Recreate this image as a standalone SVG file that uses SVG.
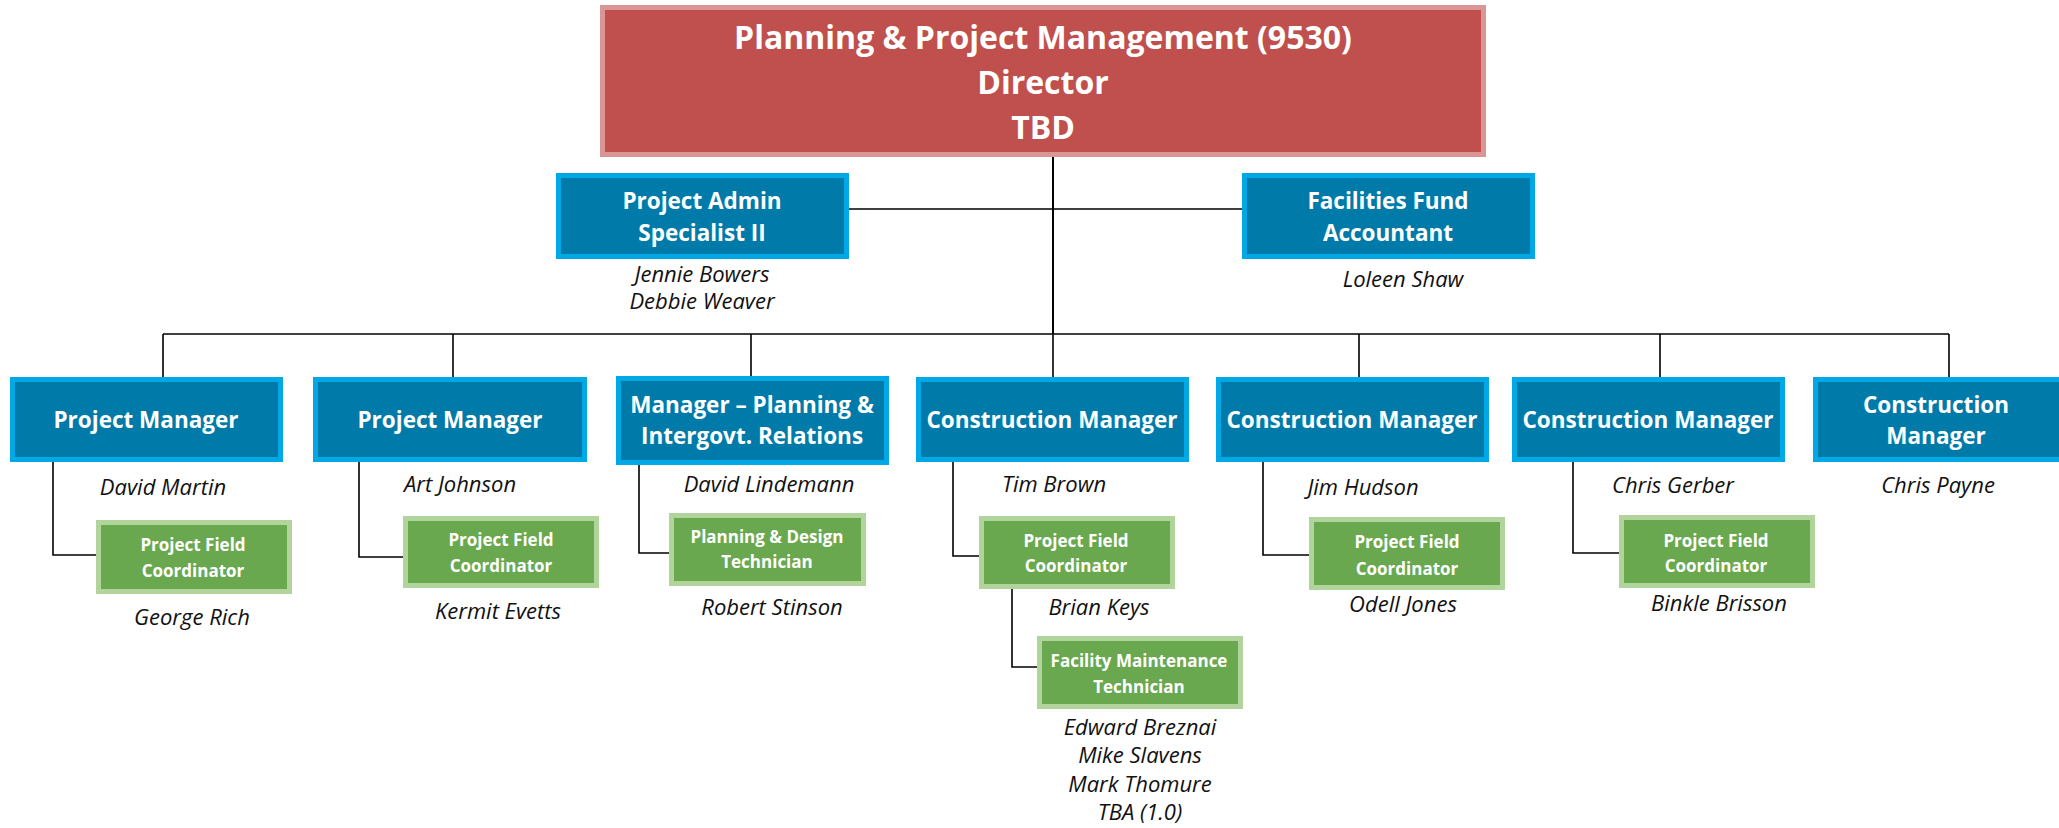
<svg xmlns="http://www.w3.org/2000/svg" width="2059" height="828" viewBox="0 0 2059 828">
<style>
.top{fill:#C0504D;stroke:#D99694;stroke-width:5}
.blue{fill:#007BA9;stroke:#00A9E6;stroke-width:5}
.green{fill:#6AA84F;stroke:#B0D49C;stroke-width:5}
.tt{font-family:"Open Sans","Liberation Sans",sans-serif;font-weight:bold;font-size:32px;fill:#fff;text-anchor:middle}
.bt{font-family:"Open Sans","Liberation Sans",sans-serif;font-weight:bold;font-size:22.5px;fill:#fff;text-anchor:middle}
.gt{font-family:"Open Sans","Liberation Sans",sans-serif;font-weight:bold;font-size:17px;fill:#fff;text-anchor:middle}
.nm{font-family:"Open Sans","Liberation Sans",sans-serif;font-style:italic;font-size:22px;fill:#111;text-anchor:middle}
.ln{fill:none;stroke:#000;stroke-width:1.6}
</style>
<g id="connectors">
<path class="ln" d="M1053 157V334" style="stroke-width:2"/>
<path class="ln" d="M849 209H1242"/>
<path class="ln" d="M163 334H1949"/>
<path class="ln" d="M163 334V377M453 334V377M751 334V376M1053 334V377M1359 334V377M1660 334V377M1949 334V377"/>
<path class="ln" d="M53 462V555H96"/>
<path class="ln" d="M359 462V557H403"/>
<path class="ln" d="M639 465V553H669"/>
<path class="ln" d="M953 462V556H979"/>
<path class="ln" d="M1263 462V555H1309"/>
<path class="ln" d="M1573 462V553H1619"/>
<path class="ln" d="M1012 589V667H1037"/>
</g>
<g id="director">
<rect class="top" x="602.5" y="7.5" width="881" height="147"/>
<text class="tt" x="1043" y="49">Planning &amp; Project Management (9530)</text>
<text class="tt" x="1043" y="94">Director</text>
<text class="tt" x="1043" y="139">TBD</text>
</g>
<g id="admin">
<rect class="blue" x="558.5" y="175.5" width="288" height="81"/>
<text class="bt" x="702" y="209">Project Admin</text>
<text class="bt" x="702" y="241">Specialist II</text>
<text class="nm" x="702" y="282">Jennie Bowers</text>
<text class="nm" x="702" y="309">Debbie Weaver</text>
</g>
<g id="accountant">
<rect class="blue" x="1244.5" y="175.5" width="288" height="81"/>
<text class="bt" x="1388" y="209">Facilities Fund</text>
<text class="bt" x="1388" y="241">Accountant</text>
<text class="nm" x="1403" y="287">Loleen Shaw</text>
</g>
<g id="pm1">
<rect class="blue" x="12.5" y="379.5" width="268" height="80"/>
<text class="bt" x="146" y="428">Project Manager</text>
<text class="nm" x="163" y="495">David Martin</text>
</g>
<g id="pfc1">
<rect class="green" x="98.5" y="522.5" width="191" height="69"/>
<text class="gt" x="193" y="551">Project Field</text>
<text class="gt" x="193" y="577">Coordinator</text>
<text class="nm" x="192" y="625">George Rich</text>
</g>
<g id="pm2">
<rect class="blue" x="315.5" y="379.5" width="269" height="80"/>
<text class="bt" x="450" y="428">Project Manager</text>
<text class="nm" x="460" y="492">Art Johnson</text>
</g>
<g id="pfc2">
<rect class="green" x="405.5" y="518.5" width="191" height="67"/>
<text class="gt" x="501" y="546">Project Field</text>
<text class="gt" x="501" y="572">Coordinator</text>
<text class="nm" x="498" y="619">Kermit Evetts</text>
</g>
<g id="mgr-planning">
<rect class="blue" x="618.5" y="378.5" width="268" height="84"/>
<text class="bt" x="752" y="413">Manager – Planning &amp;</text>
<text class="bt" x="752" y="444">Intergovt. Relations</text>
<text class="nm" x="769" y="492">David Lindemann</text>
</g>
<g id="pdt">
<rect class="green" x="671.5" y="515.5" width="192" height="68"/>
<text class="gt" x="767" y="543">Planning &amp; Design</text>
<text class="gt" x="767" y="568">Technician</text>
<text class="nm" x="772" y="615">Robert Stinson</text>
</g>
<g id="cm1">
<rect class="blue" x="918.5" y="379.5" width="268" height="80"/>
<text class="bt" x="1052" y="428">Construction Manager</text>
<text class="nm" x="1054" y="492">Tim Brown</text>
</g>
<g id="pfc4">
<rect class="green" x="981.5" y="518.5" width="191" height="68"/>
<text class="gt" x="1076" y="547">Project Field</text>
<text class="gt" x="1076" y="572">Coordinator</text>
<text class="nm" x="1099" y="615">Brian Keys</text>
</g>
<g id="fmt">
<rect class="green" x="1039.5" y="638.5" width="201" height="68"/>
<text class="gt" x="1139" y="667">Facility Maintenance</text>
<text class="gt" x="1139" y="693">Technician</text>
<text class="nm" x="1140" y="735">Edward Breznai</text>
<text class="nm" x="1140" y="763">Mike Slavens</text>
<text class="nm" x="1140" y="792">Mark Thomure</text>
<text class="nm" x="1140" y="820">TBA (1.0)</text>
</g>
<g id="cm2">
<rect class="blue" x="1218.5" y="379.5" width="268" height="80"/>
<text class="bt" x="1352" y="428">Construction Manager</text>
<text class="nm" x="1363" y="495">Jim Hudson</text>
</g>
<g id="pfc5">
<rect class="green" x="1311.5" y="519.5" width="191" height="68"/>
<text class="gt" x="1407" y="548">Project Field</text>
<text class="gt" x="1407" y="575">Coordinator</text>
<text class="nm" x="1403" y="612">Odell Jones</text>
</g>
<g id="cm3">
<rect class="blue" x="1514.5" y="379.5" width="268" height="80"/>
<text class="bt" x="1648" y="428">Construction Manager</text>
<text class="nm" x="1673" y="493">Chris Gerber</text>
</g>
<g id="pfc6">
<rect class="green" x="1621.5" y="517.5" width="191" height="68"/>
<text class="gt" x="1716" y="547">Project Field</text>
<text class="gt" x="1716" y="572">Coordinator</text>
<text class="nm" x="1719" y="611">Binkle Brisson</text>
</g>
<g id="cm4">
<rect class="blue" x="1815.5" y="379.5" width="260" height="80"/>
<text class="bt" x="1936" y="413">Construction</text>
<text class="bt" x="1936" y="444">Manager</text>
<text class="nm" x="1938" y="493">Chris Payne</text>
</g>
</svg>
